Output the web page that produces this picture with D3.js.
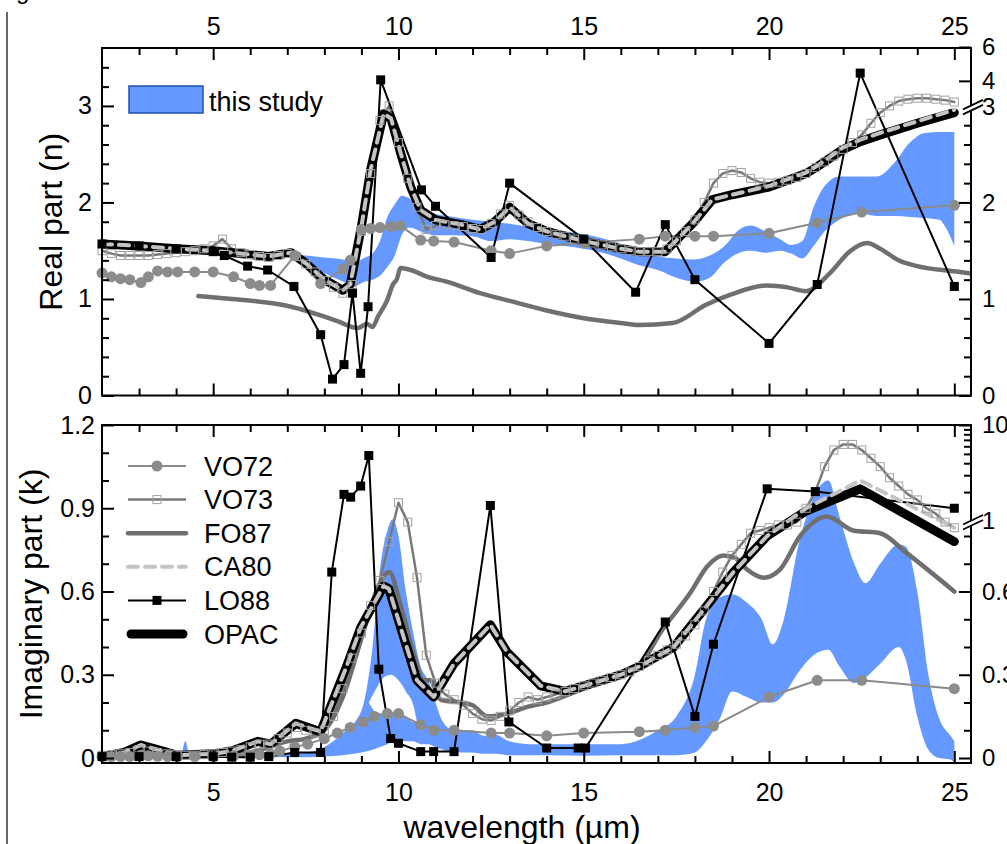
<!DOCTYPE html>
<html><head><meta charset="utf-8">
<script src="https://cdn.jsdelivr.net/npm/d3@7"></script>
<style>
body{margin:0;background:#fff;}
svg{display:block;}
text{font-family:"Liberation Sans",Arial,sans-serif;fill:#000;}
</style></head><body>
<svg id="c" width="1007" height="844"></svg>
<script>
// ---------- DATA : real part n ----------
const studyN = [[7.1,1.45,1.46],[7.5,1.38,1.45],[8.0,1.27,1.43],[8.5,1.18,1.41],[8.8,1.13,1.38],[9.1,1.18,1.43],[9.3,1.2,1.47],[9.5,1.24,1.6],[9.7,1.33,1.85],[9.9,1.45,1.98],[10.1,1.67,2.07],[10.3,1.74,2.04],[10.6,1.7,1.93],[11.0,1.66,1.88],[11.5,1.66,1.85],[12.0,1.65,1.82],[12.5,1.6,1.8],[13.0,1.62,1.78],[13.5,1.6,1.75],[14.0,1.57,1.72],[14.5,1.55,1.7],[15.0,1.52,1.67],[15.5,1.48,1.63],[16.0,1.42,1.57],[16.5,1.35,1.48],[17.0,1.3,1.44],[17.5,1.22,1.42],[18.0,1.18,1.41],[18.4,1.22,1.45],[18.8,1.38,1.55],[19.2,1.48,1.72],[19.5,1.5,1.76],[19.9,1.48,1.7],[20.3,1.5,1.62],[20.6,1.47,1.56],[20.9,1.42,1.6],[21.2,1.55,1.95],[21.5,1.7,2.17],[21.9,1.82,2.27],[22.4,1.89,2.27],[22.9,1.86,2.27],[23.4,1.86,2.42],[23.8,1.85,2.62],[24.2,1.84,2.72],[24.6,1.82,2.73],[24.75,1.75,2.73],[25.0,1.55,2.73]];
const vo72N = [[2.0,1.27],[2.25,1.23],[2.5,1.21],[2.75,1.2],[3.05,1.17],[3.25,1.23],[3.5,1.29],[3.77,1.28],[4.04,1.28],[4.5,1.28],[5.0,1.28],[5.55,1.23],[6.0,1.16],[6.25,1.14],[6.55,1.14],[7.2,1.45],[7.9,1.16],[8.5,1.31],[8.7,1.4],[9.0,1.72],[9.25,1.73],[9.5,1.74],[9.8,1.75],[10.05,1.76],[10.6,1.61],[10.95,1.6],[11.5,1.59],[12.5,1.5],[13.0,1.47],[14.0,1.55],[15.0,1.58],[16.5,1.62],[17.2,1.65],[18.0,1.65],[18.5,1.65],[20.0,1.68],[21.3,1.79],[22.5,1.9],[25.0,1.97]];
const vo73N = [[2.0,1.5],[2.25,1.47],[2.5,1.45],[2.75,1.45],[3.0,1.45],[3.25,1.45],[3.5,1.46],[3.75,1.47],[4.0,1.48],[4.25,1.49],[4.5,1.5],[4.75,1.52],[5.0,1.55],[5.25,1.62],[5.5,1.52],[5.75,1.48],[6.0,1.46],[6.25,1.44],[6.5,1.43],[6.75,1.45],[7.0,1.47],[7.25,1.44],[7.5,1.36],[7.75,1.28],[8.0,1.19],[8.25,1.12],[8.5,1.06],[8.75,1.15],[9.0,1.7],[9.25,2.3],[9.5,2.85],[9.75,3.0],[10.0,2.62],[10.25,2.25],[10.5,1.95],[10.75,1.72],[11.0,1.76],[11.25,1.77],[11.5,1.76],[11.75,1.75],[12.0,1.73],[12.25,1.72],[12.5,1.78],[12.75,1.88],[13.0,1.97],[13.25,1.87],[13.5,1.8],[13.75,1.74],[14.0,1.7],[14.25,1.67],[14.5,1.65],[14.75,1.62],[15.0,1.6],[15.25,1.58],[15.5,1.56],[15.75,1.54],[16.0,1.52],[16.25,1.5],[16.5,1.49],[16.75,1.49],[17.0,1.49],[17.25,1.52],[17.5,1.6],[17.75,1.7],[18.0,1.82],[18.25,2.0],[18.5,2.2],[18.75,2.3],[19.0,2.33],[19.25,2.31],[19.5,2.25],[19.75,2.21],[20.0,2.2],[20.25,2.21],[20.5,2.23],[20.75,2.26],[21.0,2.3],[21.25,2.36],[21.5,2.42],[21.75,2.48],[22.0,2.55],[22.25,2.62],[22.5,2.7],[22.75,2.82],[23.0,2.93],[23.25,3.0],[23.5,3.05],[23.75,3.07],[24.0,3.08],[24.25,3.08],[24.5,3.07],[24.75,3.06],[25.0,3.04]];
const fo87N = [[4.6,1.03],[5.5,1.0],[6.5,0.96],[7.1,0.92],[7.9,0.83],[8.35,0.77],[8.9,0.7],[9.15,0.74],[9.3,0.71],[9.45,0.82],[9.7,0.99],[9.85,1.15],[9.95,1.2],[10.06,1.32],[10.33,1.3],[10.78,1.23],[11.3,1.18],[12.2,1.06],[13.0,0.98],[14.0,0.88],[15.0,0.8],[16.0,0.75],[16.5,0.73],[17.4,0.75],[18.3,0.94],[19.0,1.05],[19.95,1.14],[20.5,1.12],[21.0,1.08],[21.65,1.27],[22.2,1.5],[22.65,1.58],[23.0,1.52],[23.5,1.4],[24.0,1.34],[25.15,1.28],[25.5,1.26]];
const ca80N = [[2.0,1.57],[3.0,1.55],[4.0,1.52],[5.0,1.5],[6.0,1.46],[6.5,1.44],[7.1,1.48],[7.5,1.37],[8.0,1.2],[8.5,1.09],[8.7,1.15],[9.0,1.75],[9.25,2.34],[9.6,2.92],[9.8,2.87],[10.06,2.51],[10.33,2.16],[10.6,1.92],[11.0,1.82],[11.7,1.77],[12.2,1.72],[12.6,1.8],[13.0,1.95],[13.5,1.78],[14.0,1.7],[15.0,1.6],[16.0,1.52],[16.5,1.49],[17.2,1.49],[17.96,1.79],[18.47,2.03],[19.0,2.08],[20.0,2.17],[21.0,2.31],[21.3,2.38],[22.0,2.57],[22.46,2.65],[23.0,2.72],[24.0,2.84],[25.0,2.96]];
const lo88N = [[2.0,1.57],[3.0,1.55],[4.0,1.52],[5.0,1.49],[5.3,1.45],[5.93,1.34],[6.47,1.3],[7.18,1.13],[7.9,0.63],[8.22,0.17],[8.53,0.32],[8.76,1.06],[8.98,0.23],[9.18,0.92],[9.52,3.27],[10.62,2.13],[11.0,1.96],[12.5,1.43],[13.0,2.2],[15.0,1.62],[16.4,1.07],[17.2,1.77],[18.0,1.2],[20.0,0.54],[21.3,1.15],[22.46,3.34],[25.0,1.13]];
const opacN = [[2.0,1.57],[3.0,1.55],[4.0,1.52],[5.0,1.5],[6.0,1.46],[6.5,1.44],[7.1,1.48],[7.5,1.37],[8.0,1.2],[8.5,1.09],[8.7,1.15],[9.0,1.75],[9.25,2.34],[9.6,2.92],[9.8,2.87],[10.06,2.51],[10.33,2.16],[10.6,1.92],[11.0,1.82],[11.7,1.77],[12.2,1.72],[12.6,1.8],[13.0,1.95],[13.5,1.78],[14.0,1.7],[15.0,1.6],[16.0,1.52],[16.5,1.49],[17.2,1.49],[17.96,1.79],[18.47,2.03],[19.0,2.08],[20.0,2.16],[21.0,2.3],[21.3,2.37],[22.0,2.55],[22.46,2.63],[23.0,2.7],[24.0,2.82],[25.0,2.93]];

// ---------- DATA : imaginary part k ----------
const studyK = [[4.15,0.004,0.006],[4.25,0.002,0.06],[4.35,0.002,0.015],[4.5,0.004,0.008],[5.5,0.004,0.01],[6.5,0.004,0.012],[7.5,0.003,0.02],[8.0,0.005,0.04],[8.5,0.01,0.09],[9.0,0.02,0.17],[9.3,0.03,0.4],[9.5,0.04,0.68],[9.7,0.05,0.82],[9.85,0.06,0.86],[10.0,0.06,0.8],[10.2,0.06,0.6],[10.4,0.06,0.45],[10.6,0.05,0.33],[10.8,0.05,0.28],[11.0,0.04,0.2],[11.2,0.03,0.13],[11.5,0.02,0.1],[12.0,0.02,0.1],[12.3,0.015,0.08],[12.6,0.015,0.085],[13.0,0.01,0.06],[13.5,0.01,0.05],[14.0,0.01,0.05],[15.0,0.008,0.05],[16.0,0.01,0.05],[17.0,0.01,0.1],[17.5,0.01,0.15],[18.0,0.02,0.3],[18.3,0.06,0.5],[18.7,0.15,0.58],[19.0,0.24,0.59],[19.4,0.22,0.56],[19.8,0.2,0.5],[20.1,0.2,0.41],[20.4,0.23,0.5],[20.8,0.31,0.77],[21.2,0.37,0.94],[21.6,0.39,1.0],[21.9,0.33,0.87],[22.3,0.27,0.7],[22.6,0.29,0.63],[23.0,0.34,0.7],[23.5,0.4,0.77],[23.7,0.35,0.76],[24.0,0.15,0.6],[24.3,0.03,0.3],[24.6,0.0,0.14],[24.9,-0.005,0.08],[25.0,-0.02,0.06]];
const studyKgap = [[9.2,0.2,0.2],[9.4,0.165,0.25],[9.6,0.16,0.29],[9.8,0.165,0.3],[10.0,0.165,0.28],[10.2,0.15,0.24],[10.4,0.13,0.19],[10.5,0.13,0.13]];
const vo72K = [[2.0,0.005],[2.25,0.005],[2.5,0.005],[2.75,0.005],[3.05,0.01],[3.25,0.008],[3.5,0.006],[3.77,0.005],[4.04,0.005],[4.5,0.005],[5.0,0.005],[5.55,0.008],[6.0,0.01],[6.25,0.012],[6.55,0.015],[6.8,0.025],[7.2,0.04],[7.55,0.05],[8.0,0.07],[8.35,0.09],[8.7,0.11],[9.05,0.13],[9.35,0.15],[9.7,0.16],[10.0,0.16],[10.6,0.12],[10.95,0.1],[11.5,0.1],[12.5,0.09],[13.0,0.09],[14.0,0.08],[15.0,0.09],[16.5,0.095],[17.2,0.1],[18.0,0.11],[18.5,0.115],[20.0,0.22],[21.3,0.28],[22.5,0.28],[25.0,0.25]];
const vo73K = [[2.0,0.01],[2.25,0.012],[2.5,0.015],[2.75,0.02],[3.0,0.03],[3.25,0.025],[3.5,0.02],[3.75,0.015],[4.0,0.012],[4.25,0.01],[4.5,0.01],[4.75,0.012],[5.0,0.015],[5.25,0.02],[5.5,0.025],[5.75,0.03],[6.0,0.04],[6.25,0.05],[6.5,0.05],[6.75,0.07],[7.0,0.09],[7.25,0.11],[7.5,0.1],[7.75,0.09],[8.0,0.1],[8.25,0.15],[8.5,0.25],[8.75,0.36],[9.0,0.45],[9.25,0.55],[9.5,0.64],[9.75,0.78],[10.0,0.92],[10.25,0.85],[10.5,0.65],[10.75,0.37],[11.0,0.27],[11.25,0.23],[11.5,0.21],[11.75,0.19],[12.0,0.16],[12.25,0.14],[12.5,0.135],[12.75,0.15],[13.0,0.17],[13.25,0.2],[13.5,0.22],[13.75,0.21],[14.0,0.22],[14.25,0.23],[14.5,0.24],[14.75,0.25],[15.0,0.26],[15.25,0.27],[15.5,0.28],[15.75,0.29],[16.0,0.3],[16.25,0.31],[16.5,0.33],[16.75,0.35],[17.0,0.37],[17.25,0.39],[17.5,0.41],[17.75,0.44],[18.0,0.48],[18.25,0.53],[18.5,0.6],[18.75,0.67],[19.0,0.73],[19.25,0.77],[19.5,0.81],[19.75,0.82],[20.0,0.83],[20.25,0.84],[20.5,0.84],[20.75,0.85],[21.0,0.9],[21.25,0.96],[21.5,1.05],[21.75,1.11],[22.0,1.13],[22.25,1.13],[22.5,1.11],[22.75,1.08],[23.0,1.05],[23.25,1.01],[23.5,0.98],[23.75,0.95],[24.0,0.93],[24.25,0.9],[24.5,0.88],[24.75,0.85],[25.0,0.83]];
const fo87K = [[4.6,0.005],[6.0,0.02],[7.0,0.06],[7.5,0.07],[8.0,0.1],[8.5,0.22],[9.0,0.43],[9.4,0.6],[9.75,0.67],[10.06,0.55],[10.4,0.38],[10.68,0.28],[10.85,0.28],[11.14,0.21],[11.68,0.2],[12.0,0.19],[12.4,0.15],[12.94,0.16],[13.5,0.185],[14.0,0.2],[15.0,0.25],[16.0,0.3],[16.5,0.33],[17.06,0.45],[17.9,0.6],[18.33,0.69],[18.77,0.73],[19.1,0.72],[19.4,0.68],[19.85,0.65],[20.3,0.68],[20.84,0.8],[21.57,0.87],[22.27,0.82],[23.0,0.81],[23.7,0.74],[25.0,0.6]];
const ca80K = [[2.0,0.005],[2.6,0.02],[3.05,0.047],[3.5,0.03],[4.04,0.01],[5.0,0.015],[5.5,0.025],[6.2,0.06],[6.55,0.05],[7.23,0.125],[7.9,0.095],[8.6,0.33],[8.98,0.47],[9.6,0.62],[9.74,0.61],[10.06,0.47],[10.5,0.28],[10.95,0.22],[11.5,0.34],[12.48,0.48],[12.94,0.38],[13.84,0.26],[14.5,0.24],[15.0,0.26],[16.0,0.3],[16.5,0.33],[17.43,0.4],[18.33,0.55],[19.04,0.67],[19.95,0.8],[21.0,0.9],[22.46,1.0],[25.0,0.83]];
const lo88K = [[2.0,0.005],[3.0,0.005],[4.0,0.005],[5.0,0.005],[5.5,0.003],[6.0,0.003],[6.5,0.005],[7.2,0.02],[7.9,0.02],[8.2,0.67],[8.53,0.95],[8.71,0.94],[8.98,0.98],[9.2,1.09],[9.47,0.32],[9.79,0.07],[10.0,0.053],[10.6,0.023],[10.95,0.023],[11.5,0.023],[12.48,0.91],[12.98,0.13],[14.0,0.036],[14.85,0.036],[15.05,0.036],[17.2,0.49],[18.0,0.15],[18.5,0.41],[19.95,0.97],[21.25,0.96],[25.0,0.9]];
const opacK = [[2.0,0.005],[2.6,0.02],[3.05,0.047],[3.5,0.03],[4.04,0.01],[5.0,0.015],[5.5,0.025],[6.2,0.06],[6.55,0.05],[7.23,0.125],[7.9,0.095],[8.6,0.33],[8.98,0.47],[9.6,0.62],[9.74,0.61],[10.06,0.47],[10.5,0.28],[10.95,0.22],[11.5,0.34],[12.48,0.48],[12.94,0.38],[13.84,0.26],[14.5,0.24],[15.0,0.26],[16.0,0.3],[16.5,0.33],[17.43,0.4],[18.33,0.55],[19.04,0.67],[19.95,0.8],[21.0,0.89],[22.46,0.97],[25.0,0.78]];

// ---------- ticks / labels ----------
const xMajor = [5,10,15,20,25];
const xMinor = [3,4,6,7,8,9,11,12,13,14,16,17,18,19,21,22,23,24];
const nMajor = [0,1,2,3];
const nMinor = [0.2,0.4,0.6,0.8,1.2,1.4,1.6,1.8,2.2,2.4,2.6,2.8,3.2,3.4];
const nRightMajor = [0,1,2];
const nRightMinor = [0.2,0.4,0.6,0.8,1.2,1.4,1.6,1.8,2.2,2.4,2.6,2.8];
const nRightLog = [4,6];
const kMajor = [0,0.3,0.6,0.9,1.2];
const kMinor = [0.1,0.2,0.4,0.5,0.7,0.8,1.0,1.1];
const kRightMajor = [0,0.3,0.6];
const kRightMinor = [0.1,0.2,0.4,0.5,0.7,0.8];
const kRightLogMinor = [2,3,4,5,6,7,8,9];
const seriesNames = ["VO72","VO73","FO87","CA80","LO88","OPAC"];

// ---------- styles ----------
const BLUE = "#6699ff";
const styles = {
  VO72:{stroke:"#8a8a8a", width:2, marker:"circle"},
  VO73:{stroke:"#787878", width:2.5, marker:"open"},
  FO87:{stroke:"#6f6f6f", width:4.5, curve:true},
  CA80:{stroke:"#c4c4c4", width:4, dash:"10,7"},
  LO88:{stroke:"#000", width:2, marker:"square"},
  OPAC:{stroke:"#000", width:9}
};
const drawOrder = ["VO73","FO87","VO72","LO88","OPAC","CA80"];

const svg = d3.select("#c");
const X0 = 102, X1 = 971;
const x = d3.scaleLinear().domain([2,25.45]).range([X0,X1]);
const yN = d3.scaleLinear().domain([0,3.6]).range([395.5,48]);
const yNlog = d3.scaleLog().domain([3,6]).range([yN(3),48]);
const yK = d3.scaleLinear().domain([-0.018,1.2]).range([763,425]);
const yKlog = d3.scaleLog().domain([1,10]).range([521,425]);

const panels = [
  {y:yN, top:48, bot:395.5, data:{VO72:vo72N,VO73:vo73N,FO87:fo87N,CA80:ca80N,LO88:lo88N,OPAC:opacN}, band:studyN, gap:null},
  {y:yK, top:425, bot:763, data:{VO72:vo72K,VO73:vo73K,FO87:fo87K,CA80:ca80K,LO88:lo88K,OPAC:opacK}, band:studyK, gap:studyKgap}
];

const defs = svg.append("defs");

function drawMarkers(g, pts, st, xs, ys){
  if(st.marker==="circle"){
    g.selectAll(null).data(pts).enter().append("circle")
      .attr("cx",d=>xs(d[0])).attr("cy",d=>ys(d[1])).attr("r",5.5).attr("fill","#8c8c8c");
  } else if(st.marker==="square"){
    g.selectAll(null).data(pts).enter().append("rect")
      .attr("x",d=>xs(d[0])-4.5).attr("y",d=>ys(d[1])-4.5).attr("width",9).attr("height",9).attr("fill","#000");
  } else if(st.marker==="open"){
    g.selectAll(null).data(pts).enter().append("rect")
      .attr("x",d=>xs(d[0])-4).attr("y",d=>ys(d[1])-4).attr("width",8).attr("height",8)
      .attr("fill","none").attr("stroke","#a2a2a2").attr("stroke-width",1);
  }
}

panels.forEach((p,i)=>{
  const cid = "clip"+i;
  defs.append("clipPath").attr("id",cid).append("rect")
    .attr("x",X0).attr("y",p.top).attr("width",X1-X0).attr("height",p.bot-p.top);
  const g = svg.append("g");
  const gl = g.append("g").attr("clip-path",`url(#${cid})`);
  const area = d3.area().x(d=>x(d[0])).y0(d=>p.y(d[1])).y1(d=>p.y(d[2])).curve(d3.curveMonotoneX);
  let dpath = area(p.band);
  if(p.gap) dpath += area(p.gap);
  gl.append("path").attr("d",dpath).attr("fill",BLUE).attr("fill-rule","evenodd");

  drawOrder.forEach(name=>{
    const st = styles[name];
    const pts = p.data[name];
    const ln = d3.line().x(d=>x(d[0])).y(d=>p.y(d[1]))
      .curve(st.curve ? d3.curveMonotoneX : d3.curveLinear);
    gl.append("path").attr("d",ln(pts)).attr("fill","none")
      .attr("stroke",st.stroke).attr("stroke-width",st.width)
      .attr("stroke-linejoin","round").attr("stroke-linecap","round")
      .attr("stroke-dasharray",st.dash||null);
    drawMarkers(g, pts, st, x, p.y);
  });
});

// ---------- axes ----------
function styleAxis(sel, fs){
  sel.select(".domain").remove();
  sel.attr("font-family",null).attr("font-size",null);
  sel.selectAll(".tick line").attr("stroke","#000").attr("stroke-width",2);
  sel.selectAll(".tick text").attr("font-size",fs||25).attr("fill","#000");
}
function addAxis(axis, tx, ty, fs){
  const g = svg.append("g").attr("transform",`translate(${tx},${ty})`).call(axis);
  styleAxis(g, fs);
  return g;
}
const fmt = d3.format("d");
const fmtK = d=> d===0 ? "0" : d3.format(".1f")(d);

// x axes
panels.forEach((p,i)=>{
  addAxis(d3.axisTop(x).tickValues(xMajor).tickSize(-12).tickPadding(13).tickFormat(i===0?fmt:""),0,p.top);
  addAxis(d3.axisTop(x).tickValues(xMinor).tickSize(-7).tickFormat(""),0,p.top);
  addAxis(d3.axisBottom(x).tickValues(xMajor).tickSize(-12).tickPadding(20).tickFormat(i===1?fmt:""),0,p.bot);
  addAxis(d3.axisBottom(x).tickValues(xMinor).tickSize(-7).tickFormat(""),0,p.bot);
});
// left axes
addAxis(d3.axisLeft(yN).tickValues(nMajor).tickSize(-12).tickPadding(10).tickFormat(fmt),X0,0);
addAxis(d3.axisLeft(yN).tickValues(nMinor).tickSize(-7).tickFormat(""),X0,0);
addAxis(d3.axisLeft(yK).tickValues(kMajor).tickSize(-12).tickPadding(7).tickFormat(fmtK),X0,0);
addAxis(d3.axisLeft(yK).tickValues(kMinor).tickSize(-7).tickFormat(""),X0,0);
// right axes (top panel)
addAxis(d3.axisRight(yN).tickValues(nRightMajor).tickSize(-12).tickPadding(11).tickFormat(fmt),X1,0,24);
addAxis(d3.axisRight(yN).tickValues(nRightMinor).tickSize(-7).tickFormat(""),X1,0);
addAxis(d3.axisRight(yNlog).tickValues(nRightLog).tickSize(-12).tickPadding(11).tickFormat(fmt),X1,-1,24);
addAxis(d3.axisRight(yNlog).tickValues([3]).tickSize(0).tickPadding(11).tickFormat(fmt),X1,1,24);
// right axes (bottom panel)
addAxis(d3.axisRight(yK).tickValues(kRightMajor).tickSize(-12).tickPadding(11).tickFormat(fmtK),X1,0,24);
addAxis(d3.axisRight(yK).tickValues(kRightMinor).tickSize(-7).tickFormat(""),X1,0);
addAxis(d3.axisRight(yKlog).tickValues([10]).tickSize(-12).tickPadding(11).tickFormat(fmt),X1,0,24);
addAxis(d3.axisRight(yKlog).tickValues(kRightLogMinor).tickSize(-7).tickFormat(""),X1,0);
addAxis(d3.axisRight(yKlog).tickValues([1]).tickSize(0).tickPadding(11).tickFormat(fmt),X1,0,24);

// frames
panels.forEach(p=>{
  svg.append("rect").attr("x",X0).attr("y",p.top).attr("width",X1-X0).attr("height",p.bot-p.top)
    .attr("fill","none").attr("stroke","#000").attr("stroke-width",2);
});

// axis breaks
function axisBreak(yc){
  const g = svg.append("g").attr("transform",`translate(${X1+2},${yc})`);
  g.append("path").attr("d","M-9,5 L9,-4 L9,-9 L-9,0 Z").attr("fill","#fff");
  g.append("line").attr("x1",-10).attr("y1",5.5).attr("x2",10).attr("y2",-4).attr("stroke","#000").attr("stroke-width",1.8);
  g.append("line").attr("x1",-10).attr("y1",0.5).attr("x2",10).attr("y2",-9).attr("stroke","#000").attr("stroke-width",1.8);
}
axisBreak(yNlog(3)+3);
axisBreak(yKlog(1)+3);

// axis titles
svg.append("text").attr("transform",`translate(62,${(48+395.5)/2}) rotate(-90)`)
  .attr("text-anchor","middle").attr("font-size",32).text("Real part (n)");
svg.append("text").attr("transform",`translate(42,${(425+763)/2}) rotate(-90)`)
  .attr("text-anchor","middle").attr("font-size",32).text("Imaginary part (k)");
svg.append("text").attr("x",522).attr("y",838).attr("text-anchor","middle")
  .attr("font-size",32).text("wavelength (\u00b5m)");

// legend: this study
svg.append("rect").attr("x",129).attr("y",86).attr("width",74).attr("height",27)
  .attr("fill",BLUE).attr("stroke","#1d4fb0").attr("stroke-width",1.5);
svg.append("text").attr("x",209).attr("y",111).attr("font-size",27).text("this study");

// legend: series
const legY0 = 466, legDy = 33.6;
seriesNames.forEach((name,i)=>{
  const st = styles[name];
  const yy = legY0 + i*legDy;
  const g = svg.append("g");
  g.append("line").attr("x1",st.width>5?131:128).attr("x2",st.width>5?183:186).attr("y1",yy).attr("y2",yy)
    .attr("stroke",st.stroke).attr("stroke-width",st.width).attr("stroke-linecap",st.width>3?"round":"butt")
    .attr("stroke-dasharray",st.dash||null);
  const lx = d3.scaleLinear().domain([0,1]).range([157,158]);
  const ly = d3.scaleLinear().domain([0,1]).range([yy,yy+1]);
  drawMarkers(g,[[0,0]],st,lx,ly);
  g.append("text").attr("x",204).attr("y",yy+9.5).attr("font-size",27).text(name);
});

// page margin decorations (cropped from source page)
svg.append("line").attr("x1",7).attr("x2",7).attr("y1",12).attr("y2",844).attr("stroke","#000").attr("stroke-width",1.2);
svg.append("text").attr("x",16).attr("y",-1).attr("font-size",24).text("g");
</script></body></html>
